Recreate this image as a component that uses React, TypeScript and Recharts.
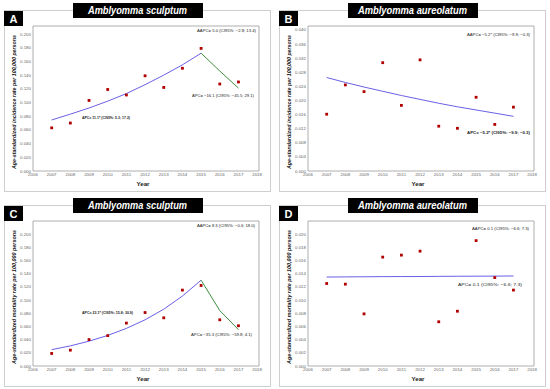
import React from 'react';
import {
  ComposedChart,
  Line,
  Scatter,
  XAxis,
  YAxis,
  ReferenceArea,
} from 'recharts';

const years = [2007, 2008, 2009, 2010, 2011, 2012, 2013, 2014, 2015, 2016, 2017];
const xTicks = [2006, 2007, 2008, 2009, 2010, 2011, 2012, 2013, 2014, 2015, 2016, 2017, 2018];

// A - incidence, A. sculptum
const obsA = [0.063, 0.070, 0.103, 0.119, 0.111, 0.139, 0.122, 0.150, 0.179, 0.127, 0.130];
const fitA1 = [0.0745, 0.083, 0.092, 0.102, 0.113, 0.126, 0.140, 0.155, 0.172];
const fitA2 = [0.172, 0.146, 0.121];

// B - incidence, A. aureolatum
const obsB = [0.0161, 0.0244, 0.0225, 0.0307, 0.0186, 0.0315, 0.0127, 0.0121, 0.0209, 0.0132, 0.0181];
const fitB = [0.0265, 0.0251, 0.0238, 0.0226, 0.0214, 0.0203, 0.0192, 0.0182, 0.0173, 0.0164, 0.0155];

// C - mortality, A. sculptum
const obsC = [0.019, 0.024, 0.040, 0.046, 0.065, 0.081, 0.073, 0.115, 0.122, 0.070, 0.061];
const fitC1 = [0.0248, 0.0305, 0.0376, 0.0463, 0.057, 0.070, 0.086, 0.106, 0.130];
const fitC2 = [0.130, 0.084, 0.055];

// D - mortality, A. aureolatum
const obsD = [0.0125, 0.0124, 0.0079, 0.0165, 0.0168, 0.0174, 0.0067, 0.0083, 0.0190, 0.0134, 0.0115];
const fitD = [0.01348, 0.0135, 0.01352, 0.01354, 0.01355, 0.01356, 0.01358, 0.0136, 0.01361, 0.01362, 0.01364];

const ticksWide = [0, 0.02, 0.04, 0.06, 0.08, 0.1, 0.12, 0.14, 0.16, 0.18, 0.2];
const ticksB = [0, 0.004, 0.008, 0.012, 0.016, 0.02, 0.024, 0.028, 0.032, 0.036, 0.04];
const ticksD = [0, 0.002, 0.004, 0.006, 0.008, 0.01, 0.012, 0.014, 0.016, 0.018, 0.02];

const BLUE = '#6a5fe6';
const GREEN = '#3f8f3f';
const RED = '#b00000';
const FONT = '"Liberation Sans", Arial, sans-serif';

// annotation text, its spot and its width in the panel
type Note = { text: string; x: number; y: number; w: number; anchor: 'start' | 'end'; bold?: boolean };

type PanelProps = {
  left: number;
  top: number;
  letter: string;
  title: string;
  titleW: number;
  ylabel: string;
  obs: number[];
  fit1: number[];
  fit2?: number[];
  yTicks: number[];
  yMax: number;
  notes: Note[];
};

const Square = (props: any) => {
  const { cx, cy } = props;
  if (cx == null || cy == null) return null;
  return <rect x={cx - 1.4} y={cy - 1.4} width={2.8} height={2.8} fill={RED} />;
};

function Panel({ left, top, letter, title, titleW, ylabel, obs, fit1, fit2, yTicks, yMax, notes }: PanelProps) {
  const rows = years.map((year, i) => ({
    year,
    obs: obs[i],
    fit1: i < fit1.length ? fit1[i] : null,
    fit2: fit2 && i >= years.length - fit2.length ? fit2[i - (years.length - fit2.length)] : null,
  }));
  const tickStyle = { fontSize: 4.4, fill: '#666', fontFamily: FONT };
  return (
    <div style={{ position: 'absolute', left, top, width: 275, height: 195 }}>
      <svg width={275} height={195} style={{ position: 'absolute', left: 0, top: 0 }}>
        <rect x={4.5} y={10.5} width={266} height={181} fill="#fff" stroke="#cfcfcf" strokeWidth={1} />
      </svg>
      <div style={{ position: 'absolute', left: 0, top: 0 }}>
        <ComposedChart width={275} height={195} data={rows} margin={{ top: 26, right: 16, left: 0, bottom: 0 }}>
          <XAxis
            dataKey="year"
            type="number"
            domain={[2006, 2018.1]}
            ticks={xTicks}
            tick={tickStyle}
            tickLine={false}
            tickSize={0}
            axisLine={false}
            height={24}
            interval={0}
            tickMargin={2}
          />
          <YAxis
            type="number"
            domain={[0, yMax]}
            ticks={yTicks}
            tick={tickStyle}
            tickFormatter={(v: number) => v.toFixed(3)}
            tickLine={false}
            tickSize={0}
            axisLine={false}
            width={33}
            interval={0}
            tickMargin={2}
          />
          <ReferenceArea x1={2006} x2={2018.1} y1={0} y2={yMax} fill="none" stroke="#9a9a9a" strokeWidth={0.8} ifOverflow="extendDomain" />
          <Line type="linear" dataKey="fit1" stroke={BLUE} strokeWidth={1} dot={false} isAnimationActive={false} connectNulls={false} />
          {fit2 && (
            <Line type="linear" dataKey="fit2" stroke={GREEN} strokeWidth={1} dot={false} isAnimationActive={false} connectNulls={false} />
          )}
          <Scatter dataKey="obs" fill={RED} shape={Square} isAnimationActive={false} />
        </ComposedChart>
      </div>
      <svg width={275} height={195} style={{ position: 'absolute', left: 0, top: 0, pointerEvents: 'none' }}>
        <rect x={73} y={3} width={130} height={15} fill="#000" />
        <text
          x={137.5}
          y={14}
          textAnchor="middle"
          fill="#fff"
          fontFamily={FONT}
          fontWeight="bold"
          fontStyle="italic"
          fontSize={10}
          textLength={titleW}
          lengthAdjust="spacingAndGlyphs"
        >
          {title}
        </text>
        <rect x={4} y={11} width={19} height={15} fill="#000" />
        <text x={13.5} y={22.5} textAnchor="middle" fill="#fff" fontFamily={FONT} fontWeight="bold" fontSize={11}>
          {letter}
        </text>
        <text
          x={0}
          y={0}
          transform="translate(15.5,102) rotate(-90)"
          textAnchor="middle"
          fontFamily={FONT}
          fontWeight="bold"
          fontStyle="italic"
          fontSize={5.4}
          fill="#111"
          textLength={134}
          lengthAdjust="spacingAndGlyphs"
        >
          {ylabel}
        </text>
        <text x={143} y={186} textAnchor="middle" fontFamily={FONT} fontWeight="bold" fontSize={6.2} fill="#222">
          Year
        </text>
        {notes.map((n, i) => (
          <text
            key={i}
            x={n.x}
            y={n.y}
            textAnchor={n.anchor}
            fontFamily={FONT}
            fontWeight={n.bold ? 'bold' : 'normal'}
            fontSize={4.3}
            fill="#222"
            textLength={n.w}
            lengthAdjust="spacingAndGlyphs"
          >
            {n.text}
          </text>
        ))}
      </svg>
    </div>
  );
}

const incLabel = 'Age-standardized incidence rate per 100,000 persons';
const mortLabel = 'Age-standardized mortality rate per 100,000 persons';

export default function App() {
  return (
    <div style={{ position: 'absolute', left: 0, top: 0, width: 550, height: 389, background: '#fff' }}>
      <Panel
        left={0}
        top={0}
        letter="A"
        title="Amblyomma sculptum"
        titleW={99}
        ylabel={incLabel}
        obs={obsA}
        fit1={fitA1}
        fit2={fitA2}
        yTicks={ticksWide}
        yMax={0.2117}
        notes={[
          { text: 'AAPC= 5.0 (CI95%: \u22122.8; 13.4)', x: 256, y: 31.5, w: 59, anchor: 'end' },
          { text: 'APC= 11.1* (CI95%: 5.3; 17.2)', x: 82, y: 118.5, w: 48, anchor: 'start', bold: true },
          { text: 'APC= \u221216.1 (CI95%: \u221245.5; 29.1)', x: 192, y: 96.5, w: 62, anchor: 'start' },
        ]}
      />
      <Panel
        left={275}
        top={0}
        letter="B"
        title="Amblyomma aureolatum"
        titleW={109}
        ylabel={incLabel}
        obs={obsB}
        fit1={fitB}
        yTicks={ticksB}
        yMax={0.0411}
        notes={[
          { text: 'AAPC= \u22125.2* (CI95%: \u22129.9; \u22120.3)', x: 255, y: 35.5, w: 63, anchor: 'end' },
          { text: 'APC= \u22125.2* (CI95%: \u22129.9; \u22120.3)', x: 192, y: 133.5, w: 63, anchor: 'start', bold: true },
        ]}
      />
      <Panel
        left={0}
        top={195}
        letter="C"
        title="Amblyomma sculptum"
        titleW={99}
        ylabel={mortLabel}
        obs={obsC}
        fit1={fitC1}
        fit2={fitC2}
        yTicks={ticksWide}
        yMax={0.2197}
        notes={[
          { text: 'AAPC= 8.3 (CI95%: \u22120.6; 18.0)', x: 255, y: 32, w: 58, anchor: 'end' },
          { text: 'APC= 23.1* (CI95%: 15.8; 30.9)', x: 82, y: 118.5, w: 51, anchor: 'start', bold: true },
          { text: 'APC= \u221235.3 (CI95%: \u221259.8; 4.1)', x: 191, y: 140.5, w: 61, anchor: 'start' },
        ]}
      />
      <Panel
        left={275}
        top={195}
        letter="D"
        title="Amblyomma aureolatum"
        titleW={109}
        ylabel={mortLabel}
        obs={obsD}
        fit1={fitD}
        yTicks={ticksD}
        yMax={0.02197}
        notes={[
          { text: 'AAPC= 0.1 (CI95%: \u22126.6; 7.3)', x: 254, y: 34.5, w: 57, anchor: 'end' },
          { text: 'APC= 0.1 (CI95%: \u22126.6; 7.3)', x: 183, y: 90.5, w: 64, anchor: 'start' },
        ]}
      />
    </div>
  );
}
